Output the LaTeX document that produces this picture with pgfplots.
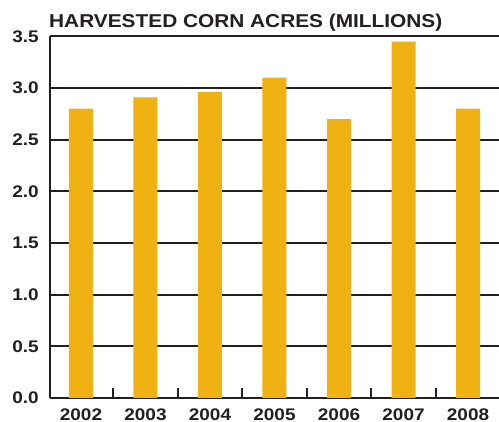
\documentclass[border=0pt]{standalone}
\usepackage{fontspec}
\setmainfont{Liberation Sans}
\newfontfamily\tickfont[FakeStretch=1.13]{Liberation Sans Bold}
\newfontfamily\titlefont[FakeStretch=1.12]{Liberation Sans Bold}
\usepackage{pgfplots}
\pgfplotsset{compat=1.18}
\definecolor{barcol}{HTML}{F0B213}
\definecolor{ink}{HTML}{231F20}
\begin{document}
\begin{tikzpicture}
\useasboundingbox (-50pt,-24pt) rectangle (449pt,398pt);
\begin{axis}[
  at={(0pt,0pt)}, anchor=south west,
  scale only axis, width=449pt, height=361.6pt,
  xmin=-0.48, xmax=6.48, ymin=0, ymax=3.5,
  ybar, bar width=24pt,
  axis x line=bottom, axis y line=left,
  axis line style={-, draw=ink, line width=2.4pt},
  xtick={0,1,2,3,4,5,6},
  xticklabels={2002,2003,2004,2005,2006,2007,2008},
  ytick={0,0.5,1,1.5,2,2.5,3,3.5},
  yticklabels={0.0,0.5,1.0,1.5,2.0,2.5,3.0,3.5},
  xtick style={draw=none}, ytick style={draw=none},
  extra x ticks={0.5,1.5,2.5,3.5,4.5,5.5},
  extra x tick labels={},
  extra x tick style={xtick style={draw=ink, line width=2.4pt}, tick align=inside, major tick length=10pt},
  ymajorgrids, grid style={draw=ink, line width=2pt},
  xticklabel style={font=\tickfont\fontsize{16.8}{18}\selectfont, text=ink, inner sep=0pt, anchor=north, yshift=-8.5pt},
  yticklabel style={font=\tickfont\fontsize{16.8}{18}\selectfont, text=ink, inner sep=0pt, anchor=east, xshift=-9pt},
  title={\titlefont\fontsize{18.6}{20}\selectfont HARVESTED CORN ACRES (MILLIONS)},
  title style={at={(0,1)}, anchor=base west, inner sep=0pt, yshift=2.4pt, xshift=-1pt, text=ink},
]
\addplot[fill=barcol, draw=none] coordinates {(0,2.80) (1,2.91) (2,2.96) (3,3.10) (4,2.70) (5,3.45) (6,2.80)};
\end{axis}
\end{tikzpicture}
\end{document}
